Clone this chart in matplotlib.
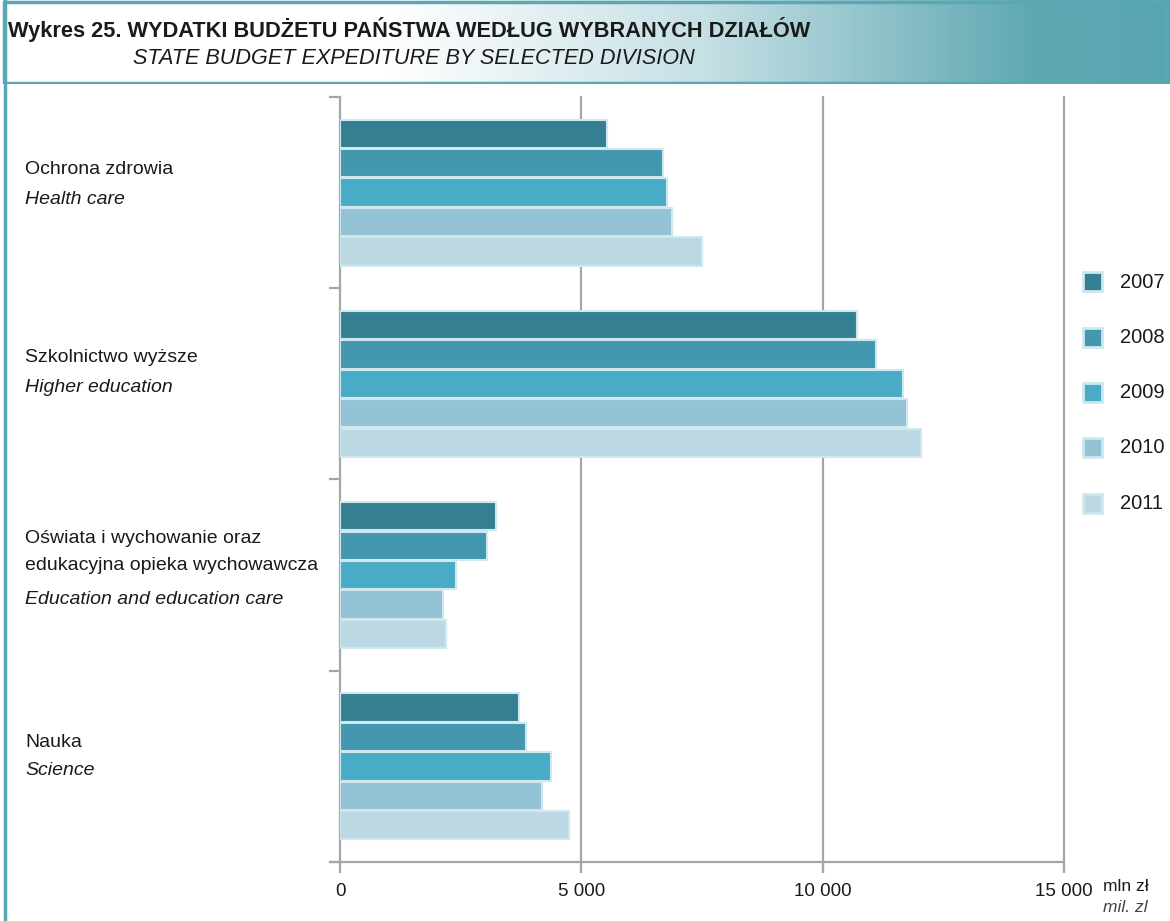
"""State budget expenditure by selected division, 2007-2011 (horizontal grouped bars)."""

import numpy as np
import matplotlib
matplotlib.use("Agg")
import matplotlib.pyplot as plt
from matplotlib.colors import LinearSegmentedColormap
from matplotlib.patches import Rectangle

plt.rcParams["font.family"] = ["Liberation Sans", "DejaVu Sans"]

# data (mln zł)
CATEGORIES_PL = ["Ochrona zdrowia", "Szkolnictwo wyższe",
                 "Oświata i wychowanie oraz\nedukacyjna opieka wychowawcza", "Nauka"]
CATEGORIES_EN = ["Health care", "Higher education", "Education and education care", "Science"]
YEARS = ["2007", "2008", "2009", "2010", "2011"]
V2007 = [5530, 10720, 3230, 3710]
V2008 = [6690, 11100, 3040, 3850]
V2009 = [6770, 11660, 2400, 4370]
V2010 = [6870, 11740, 2130, 4180]
V2011 = [7490, 12030, 2190, 4740]
SERIES = [V2007, V2008, V2009, V2010, V2011]
X_TICKS = [0, 5000, 10000, 15000]
X_TICKLABELS = ["0", "5 000", "10 000", "15 000"]

COLORS = ["#367f93", "#4397ae", "#4aabc6", "#93c3d5", "#bcd8e3"]
EDGE = "#cfe7ef"
TEAL = "#5aa8b3"
GRID = "#a6a6a6"
TXT = "#1a1a1a"

W, H = 1170, 921
fig = plt.figure(figsize=(W / 100, H / 100), dpi=100)

# header band with gradient
hdr = fig.add_axes([0, 1 - 84 / H, 1, 84 / H])
cmap = LinearSegmentedColormap.from_list(
    "hdr", [(0, "#ffffff"), (0.33, "#ffffff"), (0.6, "#c6e0e5"), (0.88, "#60a9b3"), (1, "#58a5b0")])
grad = np.linspace(0, 1, 512)[None, :]
hdr.imshow(grad, aspect="auto", cmap=cmap, extent=[0, 1, 0, 1])
hdr.set_xlim(0, 1)
hdr.set_ylim(0, 1)
hdr.axis("off")
hdr.add_patch(Rectangle((0.003, 0.01), 0.994, 0.97, fill=False, edgecolor=TEAL, lw=2.5,
                        transform=hdr.transAxes))

# left border running down the page
fig.add_artist(plt.Line2D([5 / W, 5 / W], [0, 1], color=TEAL, lw=2.5))

fig.text(8 / W, 1 - 30 / H, "Wykres 25. WYDATKI BUDŻETU PAŃSTWA WEDŁUG WYBRANYCH DZIAŁÓW",
         fontsize=15.7, fontweight="bold", color=TXT, va="center", ha="left")
fig.text(133 / W, 1 - 58 / H, "STATE BUDGET EXPEDITURE BY SELECTED DIVISION",
         fontsize=15.6, style="italic", color=TXT, va="center", ha="left")

# main axes
ax = fig.add_axes([340 / W, 1 - 862 / H, (1064 - 340) / W, (862 - 97) / H])
n_cat = len(CATEGORIES_PL)
step = 0.154
bar_h = 0.148
for i, vals in enumerate(SERIES):
    y = np.arange(n_cat) + (i - 2) * step
    ax.barh(y, vals, height=bar_h, color=COLORS[i], edgecolor=EDGE, linewidth=1.5, zorder=3)

ax.set_ylim(n_cat - 0.5, -0.5)
ax.set_xlim(0, 15000)
for x in X_TICKS[1:]:
    ax.plot([x, x], [-0.5, n_cat - 0.5 + 0.04], color=GRID, lw=1.6, zorder=1, clip_on=False)

for s in ["top", "right"]:
    ax.spines[s].set_visible(False)
ax.spines["left"].set_color(GRID)
ax.spines["bottom"].set_color(GRID)
ax.spines["left"].set_linewidth(1.6)
ax.spines["bottom"].set_linewidth(1.6)
ax.spines["bottom"].set_bounds(-200, 15000)

ax.set_yticks(np.arange(-0.5, n_cat, 1.0))
ax.set_yticklabels([])
ax.tick_params(axis="y", length=8, width=1.6, color=GRID)
ax.set_xticks(X_TICKS)
ax.set_xticklabels(X_TICKLABELS, fontsize=13.5, color=TXT)
ax.tick_params(axis="x", length=8, width=1.6, color=GRID, pad=7)

# category labels
label_y = [(170, 200), (358, 388), (552, 600), (742, 770)]
for i in range(n_cat):
    ypl, yen = label_y[i]
    fig.text(25 / W, 1 - ypl / H, CATEGORIES_PL[i], fontsize=14, color=TXT,
             va="center", ha="left", linespacing=1.75)
    fig.text(25 / W, 1 - yen / H, CATEGORIES_EN[i], fontsize=14, color=TXT,
             va="center", ha="left", style="italic")

# unit
fig.text(1103 / W, 1 - 886 / H, "mln zł", fontsize=12.5, color=TXT, va="center", ha="left")
fig.text(1103 / W, 1 - 907 / H, "mil. zl", fontsize=12.5, color="#444444", va="center",
         ha="left", style="italic")

# legend
for i, yr in enumerate(YEARS):
    yc = 282 + i * 55.3
    fig.add_artist(Rectangle((1083 / W, 1 - (yc + 9.5) / H), 19 / W, 19 / H,
                             facecolor=COLORS[i], edgecolor=EDGE, lw=2))
    fig.text(1120 / W, 1 - yc / H, yr, fontsize=14.5, color=TXT, va="center", ha="left")

fig.savefig("out.png", dpi=100)
